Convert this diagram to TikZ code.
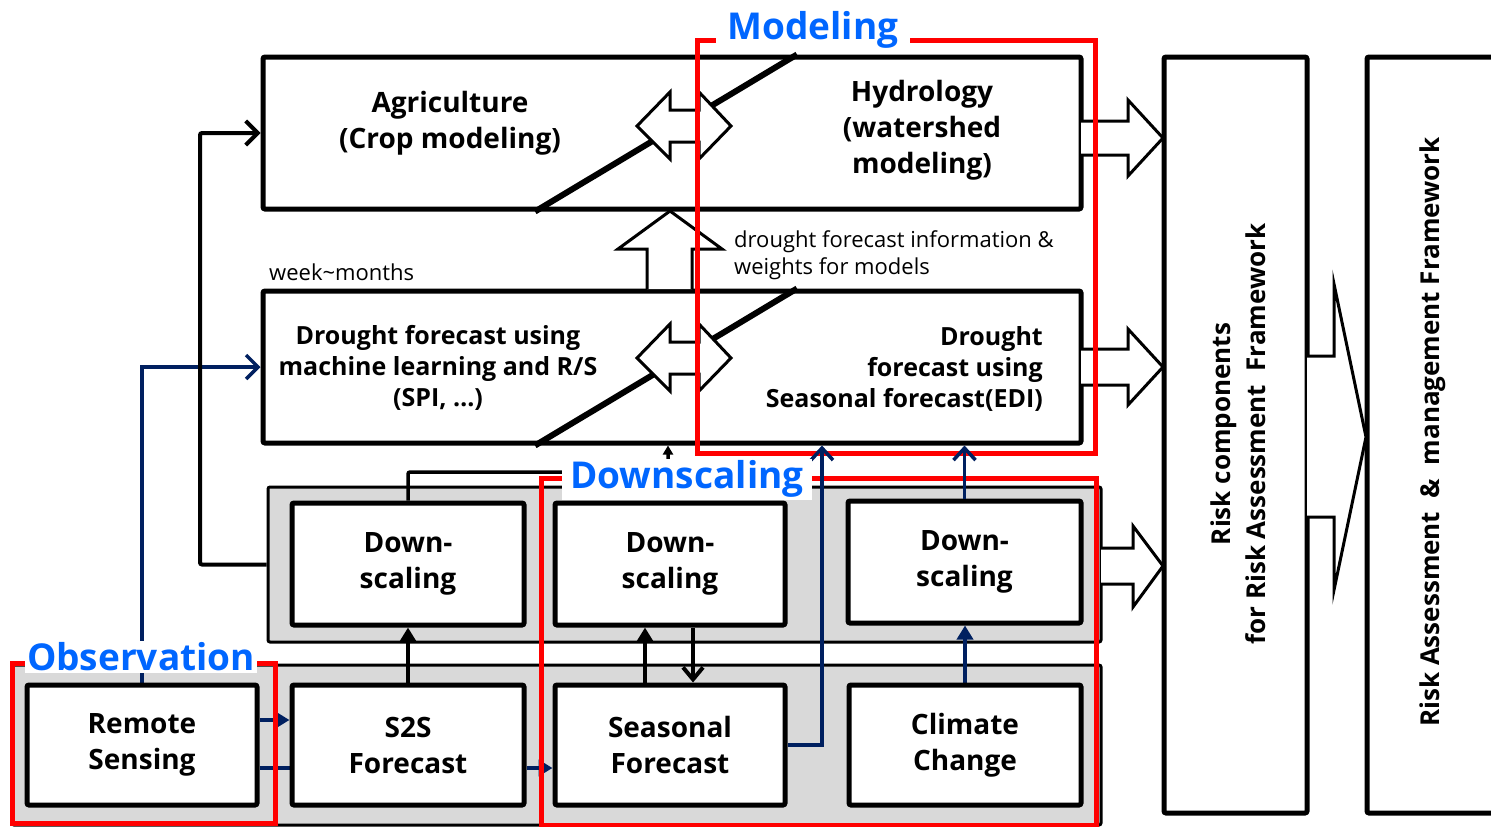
\documentclass[tikz,border=0pt]{standalone}
\usepackage{fontspec}
\setmainfont{Open Sans}
\usetikzlibrary{arrows.meta}
\definecolor{navy}{RGB}{0,32,96}
\definecolor{lblue}{RGB}{0,102,255}
\definecolor{panelgray}{RGB}{217,217,217}
\newcommand\bxf{\bfseries\fontsize{28}{36}\selectfont}
\newcommand\drf{\bfseries\fontsize{25}{31}\selectfont}
\newcommand\vtf{\bfseries\fontsize{26}{35}\selectfont}
\newcommand\rgf{\fontsize{22}{27}\selectfont}
\newcommand\lblf{\bfseries\fontsize{37}{40}\selectfont}
\pgfdeclarelayer{bgl}
\pgfdeclarelayer{panels}
\pgfdeclarelayer{conns}
\pgfsetlayers{bgl,panels,conns,main}
\begin{document}
\begin{tikzpicture}[x=1pt,y=-1pt,
  box/.style={draw, line width=5, fill=white, rounded corners=2, inner sep=0, align=center, font=\bxf},
  bigbox/.style={draw, line width=5, fill=white, rounded corners=2, inner sep=0},
  panel/.style={draw, line width=3, fill=panelgray, rounded corners=2, inner sep=0},
  txt/.style={align=center, font=\bxf, inner sep=0},
  conn/.style={line width=4, black, rounded corners=2},
  bconn/.style={line width=3.5, navy},
  blk/.style={draw, line width=3, fill=white, line join=miter},
  diag/.style={line width=6},
  frame/.style={draw=red, line width=5},
  lbl/.style={fill=white, text=lblue, font=\lblf, inner ysep=2},
]
\clip (0,0) rectangle (1491,827);
\begin{pgfonlayer}{bgl}
\fill[white] (0,0) rectangle (1491,827);
\end{pgfonlayer}

% panels
\begin{pgfonlayer}{panels}
\node[panel, minimum width=833, minimum height=155] (dsp) at (684.5,564.5) {};
\node[panel, minimum width=1089, minimum height=160] (obp) at (556.5,745) {};
\end{pgfonlayer}

% big boxes
\node[bigbox, minimum width=818, minimum height=152] (top) at (672,133) {};
\node[bigbox, minimum width=818, minimum height=152] (mid) at (672,367) {};
\draw[diag] (top.south -| 535,0) -- (top.north -| 797,0);
\draw[diag] (mid.south -| 535,0) -- (mid.north -| 797,0);

% double arrows
\draw[blk] (637,126) -- (670,92) -- (670,110) -- (699,110) -- (699,92) -- (731,126) -- (699,159) -- (699,142) -- (670,142) -- (670,159) -- cycle;
\draw[blk] (637,358) -- (670,324) -- (670,342) -- (699,342) -- (699,324) -- (731,358) -- (699,391) -- (699,374) -- (670,374) -- (670,391) -- cycle;

% up block arrow
\draw[blk] (647,289) -- (647,249) -- (618,249) -- (670,211) -- (722,249) -- (692,249) -- (692,289);

\node[txt] (agri) at (450,123) {Agriculture\\(Crop modeling)};
\node[txt] (hydro) at (922,130) {Hydrology\\(watershed\\modeling)};
\node[txt, font=\drf] (dml) at (438,368) {Drought forecast using\\machine learning and R/S\\(SPI, …)};
\node[txt, font=\drf, align=right, anchor=east] (dsf) at (1043,369) {Drought\\forecast using\\Seasonal forecast(EDI)};
\node[font=\rgf, align=left, anchor=west, inner sep=0] (info) at (734,255) {drought forecast information \&\\weights for models};
\node[font=\rgf, anchor=west, inner sep=0] (week) at (269,272) {week\textasciitilde months};

% small boxes
\node[box, minimum width=232, minimum height=122] (ds1) at (408,564) {Down-\\scaling};
\node[box, minimum width=230, minimum height=122] (ds2) at (670,564) {Down-\\scaling};
\node[box, minimum width=233, minimum height=122] (ds3) at (964.5,562) {Down-\\scaling};
\node[box, minimum width=230, minimum height=120] (rs) at (142,745) {Remote\\Sensing};
\node[box, minimum width=232, minimum height=120] (s2s) at (408,745) {S2S\\Forecast};
\node[box, minimum width=230, minimum height=120] (sf) at (670,745) {Seasonal\\Forecast};
\node[box, minimum width=232, minimum height=120] (cc) at (965,745) {Climate\\Change};

% right boxes
\node[bigbox, minimum width=143, minimum height=756] (risk) at (1235.5,435) {};
\node[txt, rotate=90, font=\vtf] (risktxt) at (1238,434) {Risk components\\for Risk Assessment~~Framework};
\node[bigbox, minimum width=140, minimum height=756] (ram) at (1437,435) {};
\node[txt, rotate=90, font=\vtf] (ramtxt) at (1433,432) {Risk Assessment~~\&~~management Framework};

% right block arrows
\draw[blk] (1081,121) -- (1128,121) -- (1128,100) -- (1163,138) -- (1128,176) -- (1128,155) -- (1081,155);
\draw[blk] (1081,349) -- (1128,349) -- (1128,329) -- (1163,367) -- (1128,405) -- (1128,385) -- (1081,385);
\draw[blk] (1101,548) -- (1133,548) -- (1133,526) -- (1163,566) -- (1133,607) -- (1133,584) -- (1101,584);
\draw[blk] (1307,356) -- (1334,356) -- (1334,284) -- (1366,437) -- (1334,590) -- (1334,517) -- (1307,517);

% connectors behind boxes
\begin{pgfonlayer}{conns}
\coordinate (j1) at (668,472);
\draw[conn, line width=3.5, -{Triangle[length=9pt,width=10pt]}] (ds1.north) |- (j1) -- (j1 |- mid.south);
\draw[conn, -{Triangle[length=14pt,width=16pt]}] (s2s.north) -- (ds1.south);
\draw[conn, -{Triangle[length=14pt,width=16pt]}] ([xshift=-25]sf.north) -- ([xshift=-25]sf.north |- ds2.south);
\draw[conn, -{Straight Barb[length=12pt,width=20pt]}] ([xshift=23]ds2.south) -- ([xshift=23]ds2.south |- sf.north);
\draw[bconn, -{Triangle[length=14pt,width=16pt]}] (rs.east |- 0,720) -- (s2s.west |- 0,720);
\draw[bconn] (rs.east |- 0,768) -- (s2s.west |- 0,768);
\draw[bconn, -{Triangle[length=14pt,width=16pt]}] (s2s.east |- 0,768) -- (sf.west |- 0,768);
\draw[bconn, -{Straight Barb[length=12pt,width=24pt]}] (rs.north) |- (mid.west);
\draw[conn, -{Straight Barb[length=12pt,width=24pt]}] (dsp.west) -- (dsp.west -| 200,0) |- (top.west);
\draw[bconn, -{Triangle[length=14pt,width=16pt]}] (cc.north) -- (cc.north |- ds3.south);
\end{pgfonlayer}

% red frames
\draw[frame] (697,40) rectangle (1095,453);
\draw[frame] (541,478) rectangle (1096,825);
\draw[frame] (12,663) rectangle (275,823);

% blue connectors over frames
\coordinate (b1) at (822,745);
\draw[bconn, -{Straight Barb[length=12pt,width=22pt]}] (sf.east) -- (b1) -- (b1 |- mid.south);
\draw[bconn, -{Straight Barb[length=12pt,width=22pt]}] (ds3.north) -- (ds3.north |- mid.south);

% labels
\node[lbl, inner xsep=12] (modl) at (813,30) {Modeling};
\node[lbl, inner xsep=8] (dsl) at (687,479) {Downscaling};
\node[lbl, inner xsep=2] (obsl) at (141,657) {Observation};
\end{tikzpicture}
\end{document}
